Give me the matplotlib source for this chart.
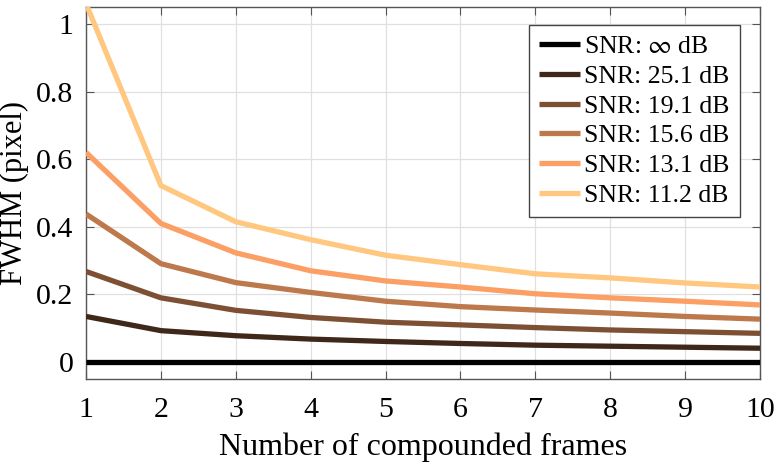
import numpy as np
import matplotlib
matplotlib.use("Agg")
import matplotlib.pyplot as plt

plt.rcParams['font.family'] = ['Liberation Serif', 'DejaVu Serif']
plt.rcParams['mathtext.fontset'] = 'stix'

# data
frames = [1, 2, 3, 4, 5, 6, 7, 8, 9, 10]
snr_labels = ["SNR: $\\infty$ dB", "SNR: 25.1 dB", "SNR: 19.1 dB",
              "SNR: 15.6 dB", "SNR: 13.1 dB", "SNR: 11.2 dB"]
fwhm_inf = [0, 0, 0, 0, 0, 0, 0, 0, 0, 0]
fwhm_251 = [0.135, 0.093, 0.078, 0.068, 0.061, 0.055, 0.050, 0.047, 0.044, 0.041]
fwhm_191 = [0.268, 0.190, 0.153, 0.132, 0.118, 0.110, 0.102, 0.095, 0.090, 0.085]
fwhm_156 = [0.438, 0.291, 0.235, 0.206, 0.180, 0.164, 0.154, 0.145, 0.135, 0.127]
fwhm_131 = [0.620, 0.410, 0.323, 0.270, 0.240, 0.222, 0.202, 0.190, 0.180, 0.169]
fwhm_112 = [1.060, 0.522, 0.415, 0.362, 0.316, 0.288, 0.261, 0.249, 0.234, 0.222]
series = [fwhm_inf, fwhm_251, fwhm_191, fwhm_156, fwhm_131, fwhm_112]

fig = plt.figure(figsize=(7.78, 4.66), dpi=100)
ax = fig.add_axes([86/778, 87/466, 674/778, 372/466])

cmap = plt.get_cmap('copper')
for i, (vals, lab) in enumerate(zip(series, snr_labels)):
    ax.plot(frames, vals, color=cmap(i / 5), lw=3.8, label=lab,
            solid_capstyle='butt', zorder=3 + (5 - i))

ax.set_xlim(1, 10)
ax.set_ylim(-0.05, 1.05)
ax.set_xticks(frames)
ax.set_yticks([0, 0.2, 0.4, 0.6, 0.8, 1.0])
ax.set_yticklabels(["0", "0.2", "0.4", "0.6", "0.8", "1"])
ax.grid(True, color='#e0e0e0', lw=0.9)
ax.set_axisbelow(True)
ax.tick_params(direction='in', top=True, right=True, labelsize=21.5,
               length=6, color='#555555')
ax.tick_params(axis='x', pad=13)
ax.tick_params(axis='y', pad=9)
for s in ax.spines.values():
    s.set_color('#555555')
    s.set_linewidth(1.0)

ax.set_xlabel("Number of compounded frames", fontsize=23, labelpad=7)
ax.set_ylabel("FWHM (pixel)", fontsize=22, labelpad=5)

leg = ax.legend(loc='upper right', bbox_to_anchor=(654/674, 354/372),
                borderaxespad=0, fontsize=18.5, handlelength=1.6,
                handletextpad=0.15, labelspacing=0.26, borderpad=0.4,
                fancybox=False, framealpha=1)
leg.get_frame().set_edgecolor('#444444')
leg.get_frame().set_linewidth(1.0)

fig.savefig("out.png", dpi=100)
